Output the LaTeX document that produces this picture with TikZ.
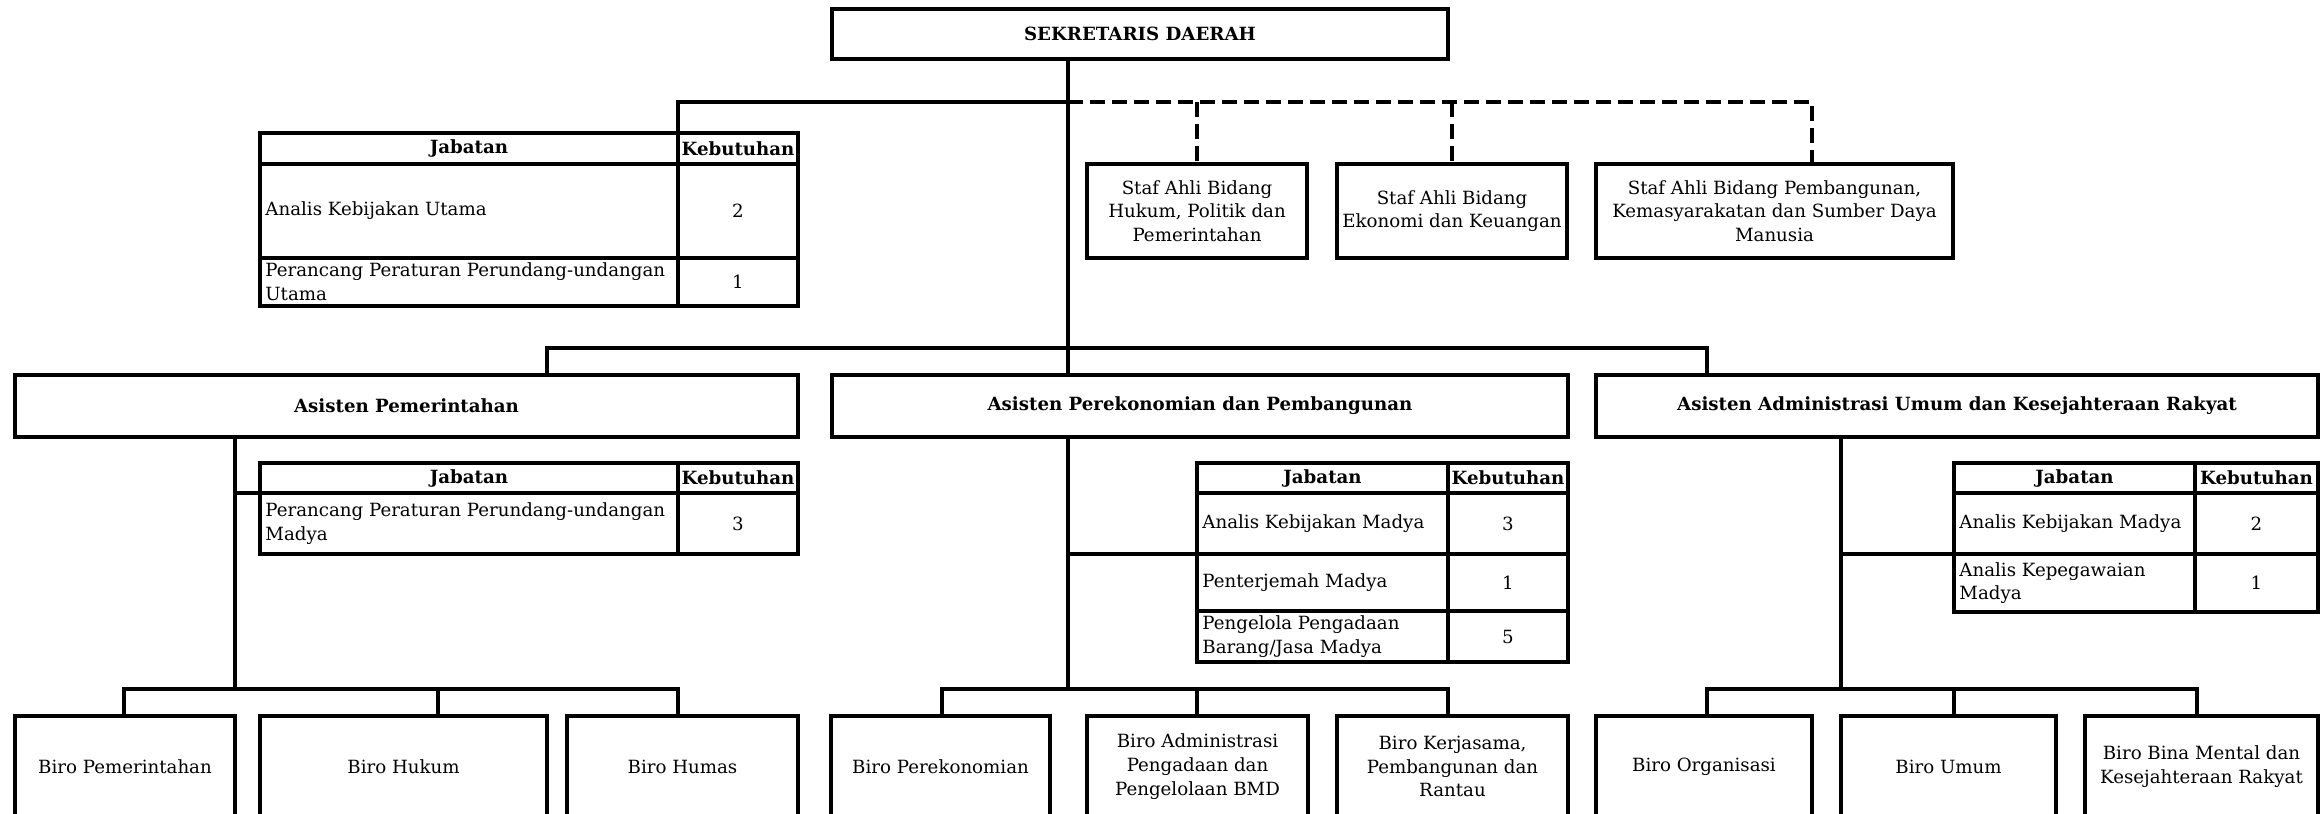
\documentclass[tikz,border=0pt]{standalone}
\usepackage{fontspec}
\setmainfont{DejaVu Serif}
\newcommand{\fs}{\fontsize{9.1}{11.8}\selectfont}
\newcommand{\cellbox}[7][]{%
  \node[bx,#1,minimum width={(#5-#3)*0.5pt},minimum height={(#6-#4)*0.5pt}] (#2) at ({(#3+#5)/2},{(#4+#6)/2}) {#7};}
\begin{document}
\begin{tikzpicture}[x=0.5pt,y=-0.5pt,
  bx/.style={draw,line width=2pt,inner sep=2pt,outer sep=0pt,font=\fs,align=center},
  bf/.style={font=\fs\bfseries},
  lt/.style={label={[anchor=west,align=left,font=\fs,inner sep=2.5pt]west:#1}},
  ln/.style={line width=2pt},
  dl/.style={line width=2pt,dash pattern=on 7.5pt off 3.5pt}]
\useasboundingbox (0,0) rectangle (2320,814);
\clip (0,0) rectangle (2320,814);
% top
\cellbox[bf]{sek}{832}{9}{1448}{59}{SEKRETARIS DAERAH}
% staf ahli
\cellbox{s1}{1087}{164}{1307}{258}{Staf Ahli Bidang\\Hukum, Politik dan\\Pemerintahan}
\cellbox{s2}{1337}{164}{1567}{258}{Staf Ahli Bidang\\Ekonomi dan Keuangan}
\cellbox{s3}{1596}{164}{1953}{258}{Staf Ahli Bidang Pembangunan,\\Kemasyarakatan dan Sumber Daya\\Manusia}
% table 1
\cellbox[bf]{t1h1}{260}{133}{678}{164}{Jabatan}
\cellbox[bf]{t1h2}{678}{133}{798}{164}{Kebutuhan}
\cellbox[lt={Analis Kebijakan Utama}]{t1r1a}{260}{164}{678}{258}{}
\cellbox{t1r1b}{678}{164}{798}{258}{2}
\cellbox[lt={Perancang Peraturan Perundang-undangan\\Utama}]{t1r2a}{260}{258}{678}{306}{}
\cellbox{t1r2b}{678}{258}{798}{306}{1}
% asisten
\cellbox[bf]{a1}{15}{375}{798}{437}{Asisten Pemerintahan}
\cellbox[bf]{a2}{832}{375}{1568}{437}{Asisten Perekonomian dan Pembangunan}
\cellbox[bf]{a3}{1596}{375}{2318}{437}{Asisten Administrasi Umum dan Kesejahteraan Rakyat}
% table 2
\cellbox[bf]{t2h1}{260}{463}{678}{493}{Jabatan}
\cellbox[bf]{t2h2}{678}{463}{798}{493}{Kebutuhan}
\cellbox[lt={Perancang Peraturan Perundang-undangan\\Madya}]{t2r1a}{260}{493}{678}{554}{}
\cellbox{t2r1b}{678}{493}{798}{554}{3}
% table 3
\cellbox[bf]{t3h1}{1197}{463}{1448}{493}{Jabatan}
\cellbox[bf]{t3h2}{1448}{463}{1568}{493}{Kebutuhan}
\cellbox[lt={Analis Kebijakan Madya}]{t3r1a}{1197}{493}{1448}{554}{}
\cellbox{t3r1b}{1448}{493}{1568}{554}{3}
\cellbox[lt={Penterjemah Madya}]{t3r2a}{1197}{554}{1448}{611}{}
\cellbox{t3r2b}{1448}{554}{1568}{611}{1}
\cellbox[lt={Pengelola Pengadaan\\Barang/Jasa Madya}]{t3r3a}{1197}{611}{1448}{662}{}
\cellbox{t3r3b}{1448}{611}{1568}{662}{5}
% table 4
\cellbox[bf]{t4h1}{1954}{463}{2195}{493}{Jabatan}
\cellbox[bf]{t4h2}{2195}{463}{2318}{493}{Kebutuhan}
\cellbox[lt={Analis Kebijakan Madya}]{t4r1a}{1954}{493}{2195}{554}{}
\cellbox{t4r1b}{2195}{493}{2318}{554}{2}
\cellbox[lt={Analis Kepegawaian\\Madya}]{t4r2a}{1954}{554}{2195}{612}{}
\cellbox{t4r2b}{2195}{554}{2318}{612}{1}
% biro
\cellbox{b1}{15}{716}{235}{817}{Biro Pemerintahan}
\cellbox{b2}{260}{716}{547}{817}{Biro Hukum}
\cellbox{b3}{567}{716}{798}{817}{Biro Humas}
\cellbox{b4}{831}{716}{1050}{817}{Biro Perekonomian}
\cellbox{b5}{1087}{716}{1308}{817}{Biro Administrasi\\Pengadaan dan\\Pengelolaan BMD}
\cellbox{b6}{1337}{716}{1568}{817}{Biro Kerjasama,\\Pembangunan dan\\Rantau}
\cellbox{b7}{1596}{716}{1812}{817}{Biro Organisasi}
\cellbox{b8}{1841}{716}{2056}{817}{Biro Umum}
\cellbox{b9}{2085}{716}{2318}{817}{Biro Bina Mental dan\\Kesejahteraan Rakyat}
% junction coordinates
\coordinate (j0) at (1068,102);
\coordinate (jR) at (1812,102);
\coordinate (kL) at (547,348);
\coordinate (kR) at (1707,348);
\coordinate (m1) at (235,689);
\coordinate (m2) at (1068,689);
\coordinate (m3) at (1841,689);
\coordinate (n1) at (124,689);
\coordinate (n2) at (438,689);
\coordinate (n3) at (678,689);
\coordinate (p1) at (942,689);
\coordinate (p2) at (1197,689);
\coordinate (p3) at (1448,689);
\coordinate (q1) at (1707,689);
\coordinate (q2) at (1954,689);
\coordinate (q3) at (2197,689);
% connectors
\draw[ln] (sek.south -| j0) -- (a2.north -| j0);
\draw[ln] (t1h1.north east) |- (j0);
\draw[dl] (j0) -- (jR) -- (s3.north -| jR);
\draw[dl] (s1.north |- j0) -- (s1.north);
\draw[dl] (s2.north |- j0) -- (s2.north);
\draw[ln] (a1.north -| kL) -- (kL) -- (kR) -- (a3.north -| kR);
% asisten pemerintahan branch
\draw[ln] (a1.south -| m1) -- (m1);
\draw[ln] (m1 |- t2h1.south west) -- (t2h1.south west);
\draw[ln] (b1.north -| n1) -- (n1) -- (n3) -- (b3.north -| n3);
\draw[ln] (n2) -- (b2.north -| n2);
% asisten perekonomian branch
\draw[ln] (a2.south -| m2) -- (m2);
\draw[ln] (m2 |- t3r1a.south west) -- (t3r1a.south west);
\draw[ln] (b4.north -| p1) -- (p1) -- (p3) -- (b6.north -| p3);
\draw[ln] (p2) -- (b5.north -| p2);
% asisten administrasi branch
\draw[ln] (a3.south -| m3) -- (m3);
\draw[ln] (m3 |- t4r1a.south west) -- (t4r1a.south west);
\draw[ln] (b7.north -| q1) -- (q1) -- (q3) -- (b9.north -| q3);
\draw[ln] (q2) -- (b8.north -| q2);
\end{tikzpicture}
\end{document}
